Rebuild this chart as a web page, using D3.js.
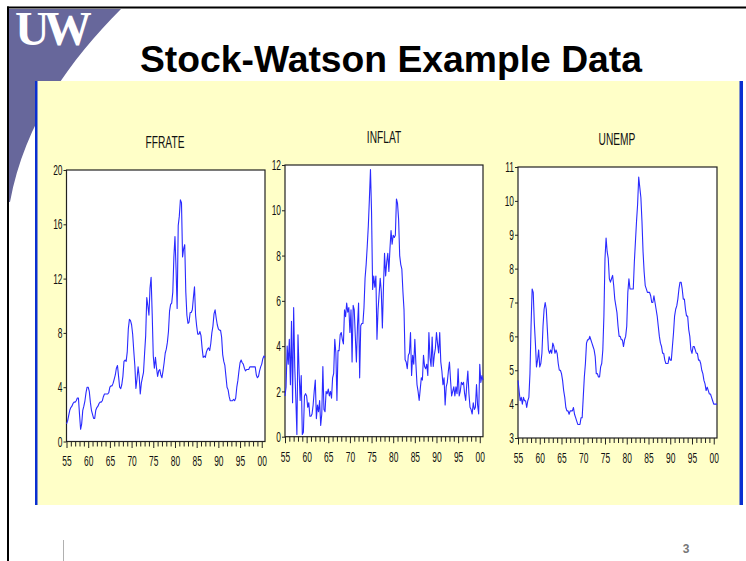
<!DOCTYPE html>
<html>
<head>
<meta charset="utf-8">
<script src="https://cdn.jsdelivr.net/npm/d3@7"></script>
<style>
	body { margin: 0; background: #fff; }
	svg { display: block; }
</style>
</head>
<body>
<svg width="746" height="561"></svg>
<script>
// quarterly series, 1955Q1 .. 2000Q4 (one line = one year)
var startYear = 1955;

var ffrate = [
	1.3, 1.5, 1.9, 2.3,   2.5, 2.6, 2.8, 2.9,   2.9, 3.0, 3.2, 3.2,   2.0, 0.9, 1.3, 2.3,
	2.6, 3.0, 3.6, 4.0,   4.0, 3.7, 2.9, 2.3,   2.0, 1.7, 1.7, 2.3,   2.5, 2.6, 2.8, 2.9,
	2.9, 3.0, 3.3, 3.5,   3.5, 3.5, 3.5, 3.6,   4.0, 4.1, 4.1, 4.3,   4.6, 4.9, 5.4, 5.6,
	4.8, 4.0, 3.9, 4.2,   4.8, 5.9, 6.0, 5.9,   6.6, 8.3, 9.0, 8.9,   8.6, 7.9, 6.7, 5.6,
	3.9, 4.6, 5.5, 4.8,   3.5, 4.3, 4.7, 5.1,   6.5, 7.8, 10.6, 10.0, 9.3, 11.3, 12.1, 9.4,
	6.3, 5.4, 6.2, 5.4,   4.8, 5.2, 5.3, 4.9,   4.7, 5.2, 5.8, 6.5,   6.8, 7.3, 8.1, 9.6,
	10.1, 10.2, 11.0, 13.6, 15.1, 12.7, 9.8, 15.9, 16.6, 17.8, 17.6, 13.6, 14.2, 14.5, 11.0, 9.3,
	8.7, 8.8, 9.5, 9.5,   9.7, 10.6, 11.4, 9.3,  8.5, 7.9, 7.9, 8.1,   7.8, 6.9, 6.2, 6.3,
	6.2, 6.6, 6.8, 6.9,   6.7, 7.2, 8.0, 8.5,   9.4, 9.7, 9.1, 8.6,   8.3, 8.2, 8.2, 7.7,
	6.4, 5.9, 5.6, 4.8,   4.0, 3.8, 3.3, 3.0,   3.0, 3.0, 3.1, 3.0,   3.2, 4.0, 4.5, 5.2,
	5.8, 6.0, 5.8, 5.7,   5.4, 5.2, 5.3, 5.3,   5.3, 5.5, 5.5, 5.5,   5.5, 5.5, 5.5, 4.9,
	4.7, 4.8, 5.2, 5.5,   5.7, 6.1, 6.3, 6.2
];

var inflat = [
	1.8, 2.2, 4.0, 3.2,   4.3, 2.3, 5.1, 1.5,   5.7, 3.1, 1.7, 0.1,   4.5, 2.9, 1.6, 2.7,
	0.1, 0.2, 1.8, 1.9,   1.8, 1.3, 1.5, 0.9,   0.9, 1.0, 1.4, 2.0,   2.5, 0.8, 1.4, 1.1,
	1.6, 0.5, 1.0, 3.1,   1.2, 1.1, 2.0, 1.9,   2.1, 1.8, 2.0, 1.7,   2.6, 2.8, 4.3, 3.7,
	1.6, 3.8, 3.8, 4.5,   4.6, 4.3, 4.1, 5.6,   5.3, 5.9, 5.5, 5.7,   4.6, 5.6, 3.3, 5.8,
	5.6, 4.4, 3.3, 4.9,   5.9, 2.6, 4.9, 5.0,   5.0, 5.7, 7.0, 7.6,   8.4, 9.3, 10.5, 11.8,
	9.9, 6.5, 7.1, 6.6,   7.1, 4.3, 5.6, 6.3,   7.0, 6.4, 4.8, 6.6,   8.1, 7.1, 7.7, 8.1,
	7.3, 8.3, 9.1, 8.5,   8.9, 8.8, 8.9, 10.5,  10.3, 9.6, 8.0, 7.6,  7.4, 6.4, 5.6, 3.4,
	3.3, 3.0, 3.6, 3.7,   4.6, 2.7, 3.6, 3.2,   4.3, 3.2, 2.3, 2.0,   1.6, 2.1, 2.6, 2.5,
	3.6, 3.1, 3.0, 3.2,   2.7, 4.6, 3.5, 3.1,   4.4, 3.1, 3.6, 3.9,   4.6, 4.1, 3.7, 4.6,
	3.3, 2.9, 2.3, 2.6,   1.4, 2.2, 2.4, 2.9,   3.3, 2.5, 1.8, 2.0,   2.2, 1.8, 2.2, 1.9,
	3.0, 1.8, 2.0, 2.4,   2.3, 2.4, 1.9, 1.6,   2.3, 2.9, 1.9, 1.3,   1.2, 1.0, 1.5, 1.2,
	1.3, 2.3, 1.4, 1.0,   3.2, 2.4, 2.7, 2.5
];

var unemp = [
	4.7, 4.4, 4.1, 4.2,   4.0, 4.2, 4.1, 4.1,   3.9, 4.1, 4.2, 4.9,   6.3, 7.4, 7.3, 6.4,
	5.8, 5.1, 5.3, 5.6,   5.1, 5.2, 5.5, 6.3,   6.8, 7.0, 6.8, 6.2,   5.6, 5.5, 5.6, 5.5,
	5.8, 5.7, 5.5, 5.6,   5.5, 5.2, 5.0, 5.0,   4.9, 4.7, 4.4, 4.2,   3.9, 3.8, 3.8, 3.7,
	3.8, 3.8, 3.8, 3.9,   3.7, 3.6, 3.5, 3.4,   3.4, 3.4, 3.6, 3.6,   4.2, 4.8, 5.2, 5.8,
	5.9, 5.9, 6.0, 5.9,   5.8, 5.7, 5.6, 5.4,   4.9, 4.9, 4.8, 4.8,   5.1, 5.2, 5.6, 6.6,
	8.3, 8.9, 8.5, 8.3,   7.7, 7.6, 7.7, 7.8,   7.5, 7.1, 6.9, 6.7,   6.3, 6.0, 6.0, 5.9,
	5.9, 5.7, 5.9, 6.0,   6.3, 7.3, 7.7, 7.4,   7.4, 7.4, 7.4, 8.2,   8.8, 9.4, 9.9, 10.7,
	10.4, 10.1, 9.4, 8.5, 7.9, 7.5, 7.4, 7.3,   7.3, 7.3, 7.2, 7.0,   7.0, 7.2, 7.0, 6.8,
	6.6, 6.3, 6.0, 5.8,   5.7, 5.5, 5.5, 5.3,   5.2, 5.2, 5.2, 5.4,   5.3, 5.3, 5.7, 6.1,
	6.6, 6.8, 6.9, 7.1,   7.4, 7.6, 7.6, 7.4,   7.1, 7.1, 6.8, 6.6,   6.6, 6.2, 6.0, 5.6,
	5.5, 5.7, 5.7, 5.6,   5.5, 5.5, 5.3, 5.3,   5.2, 5.0, 4.9, 4.7,   4.6, 4.4, 4.5, 4.4,
	4.3, 4.3, 4.2, 4.1,   4.0, 4.0, 4.0, 4.0
];

var yearTicks = d3.range(1955, 2001);          // minor ticks, every year
var yearLabels = [1955, 1960, 1965, 1970, 1975, 1980, 1985, 1990, 1995, 2000];

var panels = [
	{ title: 'FFRATE', values: ffrate, yDomain: [0, 20], yTicks: [0, 4, 8, 12, 16, 20],
	  x0: 66.5, x1: 265, y0: 170, y1: 441.5, titleX: 165, titleY: 148 },
	{ title: 'INFLAT', values: inflat, yDomain: [0, 12], yTicks: [0, 2, 4, 6, 8, 10, 12],
	  x0: 285, x1: 483, y0: 165, y1: 436.7, titleX: 384, titleY: 143 },
	{ title: 'UNEMP', values: unemp, yDomain: [3, 11], yTicks: [3, 4, 5, 6, 7, 8, 9, 10, 11],
	  x0: 518, x1: 717, y0: 167, y1: 438, titleX: 617, titleY: 145 }
];

var svg = d3.select('svg');

// slide frame
svg.append('path')
	.attr('d', 'M9,9 L121,9 C70,60 25,122 10,202 L9,202 Z')
	.attr('fill', '#67679b');
svg.append('text')
	.attr('x', 15).attr('y', 45)
	.attr('font-family', 'Liberation Serif, Times New Roman, serif')
	.attr('font-weight', 'bold')
	.attr('font-size', 48)
	.attr('letter-spacing', -6)
	.attr('fill', '#fff')
	.text('UW');
svg.append('line').attr('x1', 7).attr('x2', 746).attr('y1', 7.5).attr('y2', 7.5)
	.attr('stroke', '#000').attr('stroke-width', 2);
svg.append('line').attr('x1', 8).attr('x2', 8).attr('y1', 6.5).attr('y2', 561)
	.attr('stroke', '#000').attr('stroke-width', 2);

svg.append('text')
	.attr('x', 391).attr('y', 72)
	.attr('text-anchor', 'middle')
	.attr('font-family', 'Liberation Sans, Arial, sans-serif')
	.attr('font-weight', 'bold')
	.attr('font-size', 36)
	.attr('textLength', 502)
	.attr('lengthAdjust', 'spacingAndGlyphs')
	.text('Stock-Watson Example Data');

// yellow panel with blue sides
svg.append('rect').attr('x', 36).attr('y', 81).attr('width', 706).attr('height', 424)
	.attr('fill', '#ffffc8');
svg.append('rect').attr('x', 35).attr('y', 81).attr('width', 2.5).attr('height', 424).attr('fill', '#0a2fd0');
svg.append('rect').attr('x', 739.5).attr('y', 81).attr('width', 3.5).attr('height', 424).attr('fill', '#0a2fd0');

// footer
svg.append('line').attr('x1', 63.5).attr('x2', 63.5).attr('y1', 540).attr('y2', 561)
	.attr('stroke', '#b0b0b0');
svg.append('text')
	.attr('x', 686).attr('y', 553)
	.attr('text-anchor', 'middle')
	.attr('font-family', 'Liberation Sans, Arial, sans-serif')
	.attr('font-weight', 'bold')
	.attr('font-size', 12)
	.attr('fill', '#777')
	.text('3');

var sx = 0.58;   // the chart fonts are a narrow face, squeeze a normal one

panels.forEach(function(p) {
	var x = d3.scaleLinear()
		.domain([startYear, startYear + 45.75])
		.range([p.x0, p.x1]);
	var y = d3.scaleLinear()
		.domain(p.yDomain)
		.range([p.y1, p.y0]);

	var g = svg.append('g').attr('class', 'panel');

	g.append('rect')
		.attr('x', p.x0).attr('y', p.y0)
		.attr('width', p.x1 - p.x0).attr('height', p.y1 - p.y0)
		.attr('fill', '#fff')
		.attr('stroke', '#222')
		.attr('stroke-width', 1.2);

	var line = d3.line()
		.x(function(d, i) { return x(startYear + i / 4); })
		.y(function(d) { return y(d); });

	g.append('path')
		.datum(p.values)
		.attr('fill', 'none')
		.attr('stroke', '#2a2aff')
		.attr('stroke-width', 1.1)
		.attr('stroke-linejoin', 'round')
		.attr('d', line);

	// y axis
	var yAxis = g.append('g')
		.attr('transform', 'translate(' + p.x0 + ',0)')
		.call(d3.axisLeft(y).tickValues(p.yTicks).tickSize(3).tickSizeOuter(0));
	yAxis.select('.domain').remove();
	yAxis.selectAll('line').attr('stroke', '#222');
	yAxis.selectAll('text')
		.attr('font-family', 'Liberation Sans, Arial, sans-serif')
		.attr('font-size', 14.5)
		.attr('fill', '#111')
		.attr('x', -4 / sx)
		.attr('transform', 'scale(' + sx + ',1)');

	// x axis: a tick every year, a longer labelled one every five
	var xAxis = g.append('g')
		.attr('transform', 'translate(0,' + p.y1 + ')')
		.call(d3.axisBottom(x).tickValues(yearTicks).tickSize(5).tickSizeOuter(0)
			.tickFormat(function(d) {
				return yearLabels.indexOf(d) >= 0 ? d3.format('02d')(d % 100) : '';
			}));
	xAxis.select('.domain').remove();
	xAxis.selectAll('line')
		.attr('stroke', '#222')
		.attr('y2', function(d) { return yearLabels.indexOf(d) >= 0 ? 6.5 : 5; });
	xAxis.selectAll('text')
		.attr('font-family', 'Liberation Sans, Arial, sans-serif')
		.attr('font-size', 14.5)
		.attr('fill', '#111')
		.attr('y', 25)
		.attr('dy', null)
		.attr('transform', 'scale(' + sx + ',1)');

	g.append('text')
		.attr('transform', 'translate(' + p.titleX + ',' + p.titleY + ') scale(0.6,1)')
		.attr('text-anchor', 'middle')
		.attr('font-family', 'Liberation Sans, Arial, sans-serif')
		.attr('font-size', 17)
		.attr('fill', '#111')
		.text(p.title);
});
</script>
</body>
</html>
